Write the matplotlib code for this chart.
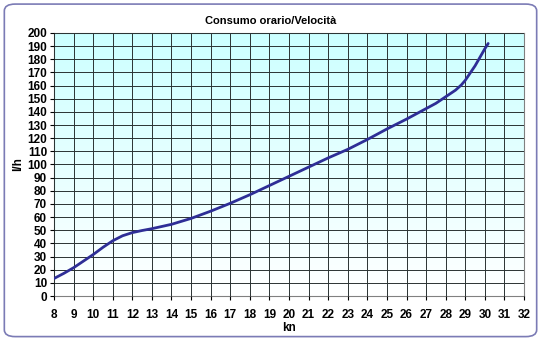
import numpy as np
import matplotlib.pyplot as plt
from matplotlib.patches import FancyBboxPatch
from matplotlib.colors import LinearSegmentedColormap

plt.rcParams['font.family'] = ['Liberation Sans', 'DejaVu Sans']

speed = [8, 8.5, 9, 9.5, 10, 10.5, 11, 11.5, 12, 12.5, 13, 14, 15, 16, 17, 18, 19, 20,
         21, 22, 23, 24, 25, 26, 27, 27.5, 28, 28.5, 28.8, 29, 29.5, 30, 30.17]
consumo = [13.3, 17.2, 21.5, 26.5, 31.5, 37, 42, 45.8, 48.2, 49.8, 51.2, 54.5, 59, 64.5, 70.5, 77, 84, 91,
           98, 105, 111.5, 119, 127, 134.5, 142.5, 146.5, 151.5, 156.5, 160.5, 164, 175, 188, 192]

xticks = list(range(8, 33))
yticks = list(range(0, 201, 10))

fig = plt.figure(figsize=(5.41, 3.40), dpi=100)
border = FancyBboxPatch((0.008, 0.01), 0.984, 0.978, boxstyle="round,pad=0,rounding_size=0.02",
                        transform=fig.transFigure, facecolor='none', edgecolor='#7b7bb5', lw=1.2)
fig.patches.append(border)

ax = fig.add_axes([0.0998, 0.1294, 0.8688, 0.7736])
cmap = LinearSegmentedColormap.from_list('bg', ['#ffffff', '#ccffff'])
grad = np.linspace(0, 1, 256).reshape(-1, 1)
ax.imshow(grad, cmap=cmap, aspect='auto', extent=[8, 32, 0, 200], origin='lower', zorder=0)

ax.plot(speed, consumo, color='#2e2e96', lw=2, zorder=3, solid_capstyle='round', solid_joinstyle='round')

ax.set_xlim(8, 32)
ax.set_ylim(0, 200)
ax.set_xticks(xticks)
ax.set_yticks(yticks)
ax.grid(True, color='#2a3232', lw=0.7, zorder=1)
ax.set_axisbelow(False)
for s in ax.spines.values():
    s.set_color('#808080')
    s.set_linewidth(0.8)
ax.tick_params(direction='out', length=3, width=0.8, color='black', labelsize=8.5, pad=2)
for lab in ax.get_xticklabels() + ax.get_yticklabels():
    lab.set_fontweight('bold')
ax.tick_params(axis='x', pad=6)

ax.set_xlabel('kn', fontsize=8.5, fontweight='bold', labelpad=1)
ax.set_ylabel('l/h', fontsize=8.5, fontweight='bold', labelpad=2)
fig.text(0.5, 0.938, 'Consumo orario/Velocità', ha='center', va='center', fontsize=8, fontweight='bold')

fig.savefig('out.png', dpi=100)
